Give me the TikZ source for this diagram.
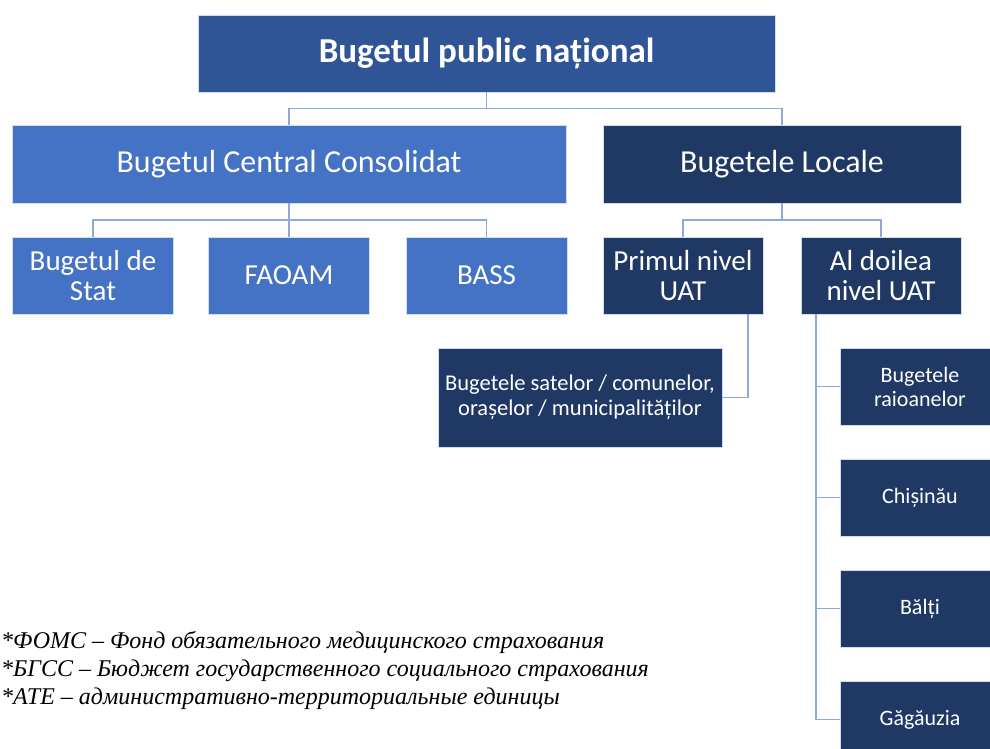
\documentclass[tikz,border=0pt]{standalone}
\usepackage{fontspec}
\setmainfont{Carlito}
\newfontfamily\notefont{Liberation Serif}
\definecolor{topblue}{HTML}{2F5597}
\definecolor{midblue}{HTML}{4472C4}
\definecolor{navy}{HTML}{203864}
\definecolor{linkblue}{HTML}{8EA9DB}
\begin{document}
\begin{tikzpicture}[x=1pt,y=-1pt,
  box/.style={draw=white!75!midblue, line width=0.6pt, text=white, align=center, inner sep=2pt},
  link/.style={draw=linkblue, line width=1.4pt}]
\useasboundingbox (0,0) rectangle (990,749);
\pgfmathsetmacro\rowh{77}
\node[box, fill=topblue, minimum width=577, minimum height=\rowh, font=\fontsize{35}{38}\selectfont\bfseries] (top) at (486.5,53.5) {Bugetul public național};
\node[box, fill=midblue, minimum width=554, minimum height=78, font=\fontsize{32}{34}\selectfont] (bcc) at (289,164) {Bugetul Central Consolidat};
\node[box, fill=navy, minimum width=358, minimum height=78, font=\fontsize{32}{34}\selectfont] (loc) at (782,164) {Bugetele Locale};
\foreach \name/\txt/\xc in {stat/{Bugetul de\\Stat}/93, faoam/FAOAM/289, bass/BASS/486.5}
  \node[box, fill=midblue, minimum width=161, minimum height=\rowh, font=\fontsize{29}{30}\selectfont] (\name) at (\xc,275.5) {\txt};
\node[box, fill=navy, minimum width=160, minimum height=\rowh, font=\fontsize{29}{30}\selectfont] (prim) at (683,275.5) {Primul nivel\\UAT};
\node[box, fill=navy, minimum width=160, minimum height=\rowh, font=\fontsize{29}{30}\selectfont] (doi) at (881,275.5) {Al doilea\\nivel UAT};
\node[box, fill=navy, minimum width=284, minimum height=99, font=\fontsize{22.5}{25}\selectfont] (sate) at (580,397.5) {Bugetele satelor / comunelor,\\orașelor / municipalităților};
\foreach \name/\txt/\yc in {raion/{Bugetele\\raioanelor}/386.5, chis/Chișinău/497.5, balti/Bălți/608.5, gag/Găgăuzia/719.5}
  \node[box, fill=navy, minimum width=160, minimum height=\rowh, font=\fontsize{22}{24}\selectfont] (\name) at (920,\yc) {\txt};
\foreach \kid in {bcc,loc} \draw[link] (top.south) -- ++(0,16.5) -| (\kid.north);
\foreach \kid in {stat,faoam,bass} \draw[link] (bcc.south) -- ++(0,16.5) -| (\kid.north);
\foreach \kid in {prim,doi} \draw[link] (loc.south) -- ++(0,16.5) -| (\kid.north);
\draw[link] ([xshift=65]prim.south) |- (sate.east);
\foreach \kid in {raion,chis,balti,gag} \draw[link] ([xshift=-65]doi.south) |- (\kid.west);
\node[anchor=base west, align=left, inner sep=0pt, font=\notefont\itshape\fontsize{24}{28}\selectfont] (notes) at (1,704) {*ФОМС – Фонд обязательного медицинского страхования\\*БГСС – Бюджет государственного социального страхования\\*АТЕ – административно-территориальные единицы};
\end{tikzpicture}
\end{document}
